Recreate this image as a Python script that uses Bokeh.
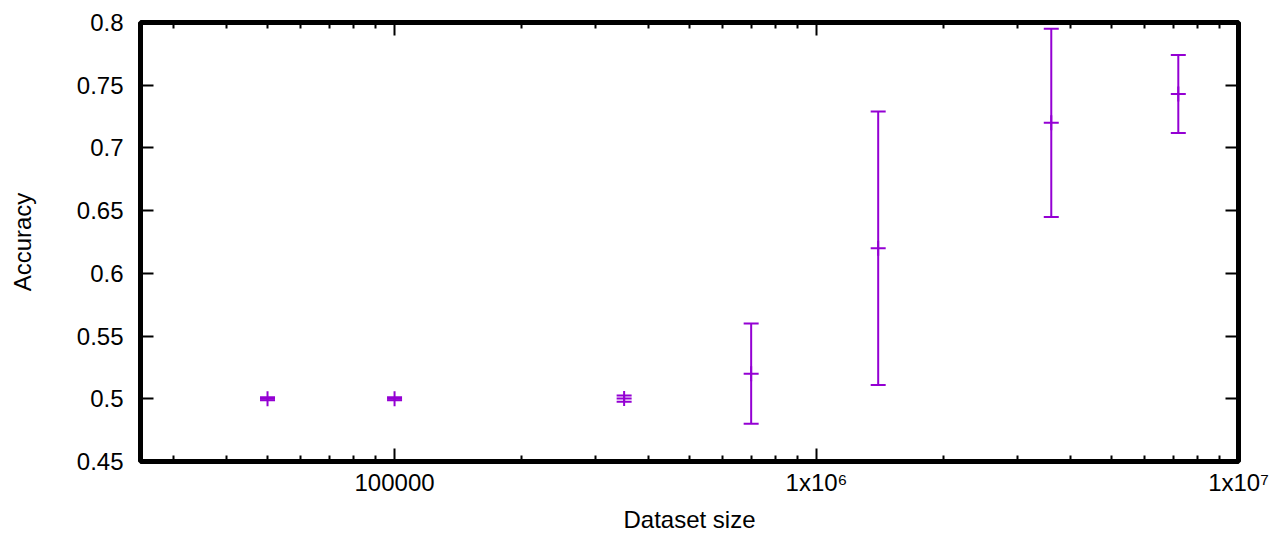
from bokeh.plotting import figure
from bokeh.models import (ColumnDataSource, Whisker, TeeHead, FixedTicker, LogAxis,
                          LinearAxis, CustomJSTickFormatter, Range1d)
from bokeh.embed import file_html
from bokeh.resources import INLINE

# ---- data ----
dataset_size = [50000, 100000, 350000, 700000, 1400000, 3600000, 7200000]
accuracy = [0.5, 0.5, 0.5002, 0.52, 0.62, 0.72, 0.743]
acc_err = [0.0012, 0.0012, 0.0025, 0.04, 0.109, 0.075, 0.031]

x_major_ticks = [100000, 1000000, 10000000]
x_tick_labels = ["100000", "1x10\u2076", "1x10\u2077"]
x_minor_ticks = [30000, 40000, 50000, 60000, 70000, 80000, 90000,
                 200000, 300000, 400000, 500000, 600000, 700000, 800000, 900000,
                 2000000, 3000000, 4000000, 5000000, 6000000, 7000000, 8000000, 9000000]
y_ticks = [0.45, 0.5, 0.55, 0.6, 0.65, 0.7, 0.75, 0.8]
y_tick_labels = ["0.45", "0.5", "0.55", "0.6", "0.65", "0.7", "0.75", "0.8"]

COLOR = "#9400d3"
FONT = "Liberation Sans"
FS = "24px"

src = ColumnDataSource(dict(
    x=dataset_size, y=accuracy,
    lower=[a - e for a, e in zip(accuracy, acc_err)],
    upper=[a + e for a, e in zip(accuracy, acc_err)],
))

p = figure(x_axis_type="log", output_backend="svg", toolbar_location=None,
           frame_width=1098, frame_height=439,
           x_range=Range1d(25000, 10000000), y_range=Range1d(0.45, 0.8),
           min_border_left=140, min_border_top=22, min_border_right=32,
           min_border_bottom=70)

p.outline_line_color = "black"
p.outline_line_width = 5
p.xgrid.visible = False
p.ygrid.visible = False
p.background_fill_color = "white"
p.border_fill_color = "white"

xt = FixedTicker(ticks=x_major_ticks, minor_ticks=x_minor_ticks)
yt = FixedTicker(ticks=y_ticks, minor_ticks=[])

def style(ax):
    ax.axis_line_color = None
    ax.major_tick_in = 13
    ax.major_tick_out = 0
    ax.major_tick_line_width = 2
    ax.major_tick_line_color = "black"
    ax.minor_tick_in = 6
    ax.minor_tick_out = 0
    ax.minor_tick_line_width = 2
    ax.minor_tick_line_color = "black"
    ax.major_label_text_font = FONT
    ax.major_label_text_font_size = FS
    ax.major_label_text_color = "black"
    ax.axis_label_text_font = FONT
    ax.axis_label_text_font_size = FS
    ax.axis_label_text_font_style = "normal"
    ax.axis_label_text_color = "black"

xa = p.xaxis[0]
xa.ticker = xt
style(xa)
xa.major_label_overrides = {v: s for v, s in zip(x_major_ticks, x_tick_labels)}
xa.major_label_standoff = 7
xa.axis_label = "Dataset size"
xa.axis_label_standoff = 7

ya = p.yaxis[0]
ya.ticker = yt
style(ya)
ya.minor_tick_line_color = None
ya.major_label_overrides = {v: s for v, s in zip(y_ticks, y_tick_labels)}
ya.major_label_standoff = 17
ya.axis_label = "Accuracy"
ya.axis_label_standoff = 38

blank = CustomJSTickFormatter(code="return ''")
top = LogAxis(ticker=xt, formatter=blank)
style(top)
top.major_label_text_font_size = "1px"
p.add_layout(top, "above")
right = LinearAxis(ticker=yt, formatter=blank)
style(right)
right.minor_tick_line_color = None
right.major_label_text_font_size = "1px"
p.add_layout(right, "right")

# error bars
w = Whisker(base="x", lower="lower", upper="upper", source=src,
            line_color=COLOR, line_width=2,
            upper_head=TeeHead(size=15, line_color=COLOR, line_width=2),
            lower_head=TeeHead(size=15, line_color=COLOR, line_width=2))
p.add_layout(w)
p.scatter("x", "y", source=src, marker="cross", size=15, line_color=COLOR, line_width=2)

open("out.html", "w").write(file_html(p, INLINE))
